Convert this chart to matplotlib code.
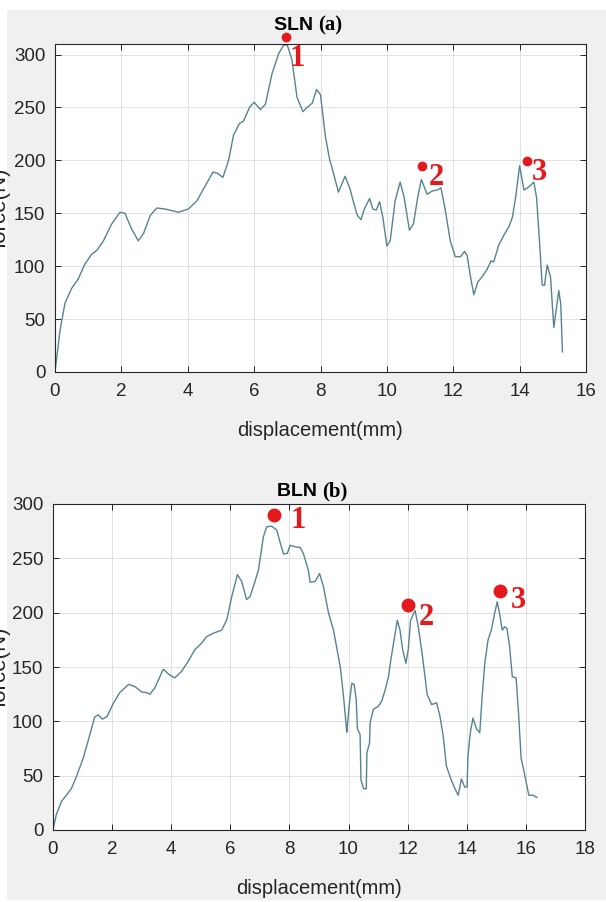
import matplotlib
matplotlib.use("Agg")
import matplotlib.pyplot as plt
from matplotlib import font_manager
from matplotlib.patches import Rectangle

def has_font(name):
    try:
        font_manager.findfont(name, fallback_to_default=False)
        return True
    except Exception:
        return False

SANS = "Liberation Sans Narrow" if has_font("Liberation Sans Narrow") else "Liberation Sans"
SERIF = "Liberation Serif"

# ---------------- data ----------------
sln_x = [0, 0.15, 0.3, 0.5, 0.7, 0.9, 1.1, 1.26, 1.46, 1.71, 1.96, 2.11, 2.31, 2.51, 2.67, 2.87,
         3.07, 3.32, 3.72, 4.02, 4.28, 4.53, 4.76, 4.88, 5.06, 5.23, 5.38, 5.56, 5.68, 5.86, 6.0,
         6.19, 6.34, 6.54, 6.74, 6.89, 7.0, 7.14, 7.29, 7.47, 7.59, 7.75, 7.88, 8.0, 8.15, 8.28,
         8.34, 8.54, 8.74, 8.89, 8.99, 9.11, 9.22, 9.32, 9.48, 9.58, 9.68, 9.78, 9.88, 10.0, 10.1,
         10.25, 10.4, 10.52, 10.68, 10.8, 10.93, 11.04, 11.21, 11.36, 11.51, 11.63, 11.76, 11.91,
         12.06, 12.22, 12.34, 12.42, 12.52, 12.62, 12.74, 12.87, 13.02, 13.14, 13.22, 13.37, 13.52,
         13.68, 13.78, 13.88, 14.0, 14.13, 14.28, 14.43, 14.51, 14.61, 14.68, 14.75, 14.83, 14.93,
         15.03, 15.18, 15.24, 15.29]
sln_y = [0, 39, 65, 79, 88, 102, 111, 115, 124, 140, 151, 150, 135, 124, 131, 148,
         155, 154, 151, 154, 162, 176, 189, 188, 184, 200, 224, 235, 237, 250, 255,
         248, 253, 282, 301, 309, 309, 295, 260, 246, 250, 254, 267, 262, 222, 200,
         194, 170, 185, 173, 161, 148, 144, 154, 164, 154, 153, 161, 146, 119, 124,
         162, 179.5, 165, 134, 140, 165, 182, 168, 171, 172, 174, 153, 124,
         109, 109, 114, 110, 90, 73, 85, 90, 97, 105, 104, 120, 129,
         137.5, 146, 165, 195, 172, 175, 179.5, 165, 118, 82, 82, 101, 90,
         42, 77, 64, 19]

bln_x = [0, 0.11, 0.28, 0.45, 0.62, 0.79, 1.02, 1.24, 1.41, 1.53, 1.67, 1.83, 2.03, 2.26, 2.56,
         2.77, 3.0, 3.16, 3.28, 3.45, 3.73, 3.93, 4.12, 4.35, 4.58, 4.8, 5.03, 5.2, 5.42, 5.71,
         5.88, 6.05, 6.24, 6.38, 6.55, 6.67, 6.78, 6.95, 7.12, 7.23, 7.4, 7.57, 7.68, 7.8, 7.93,
         8.02, 8.19, 8.36, 8.47, 8.64, 8.7, 8.87, 9.02, 9.15, 9.32, 9.49, 9.72, 9.83, 9.92, 9.94,
         10.03, 10.11, 10.19, 10.26, 10.3, 10.39, 10.42, 10.51, 10.6, 10.62, 10.71, 10.73, 10.84,
         11.01, 11.12, 11.24, 11.35, 11.43, 11.54, 11.65, 11.74, 11.83, 11.94, 12.02, 12.1, 12.25,
         12.36, 12.47, 12.53, 12.66, 12.81, 12.98, 13.09, 13.2, 13.31, 13.46, 13.6, 13.71, 13.82,
         13.93, 14.01, 14.04, 14.12, 14.21, 14.33, 14.44, 14.52, 14.61, 14.72, 14.83, 14.94, 15.03,
         15.11, 15.2, 15.28, 15.36, 15.45, 15.54, 15.67, 15.75, 15.84, 15.92, 16.01, 16.1, 16.24,
         16.37]
bln_y = [0, 14, 26, 32, 38, 49, 66, 87, 104, 106, 102, 104.5, 116, 126.5, 134,
         132, 127, 126.5, 125, 131, 148, 143, 140, 146, 155.5, 166, 172, 178, 181, 184,
         193.6, 215, 235, 229, 212, 215, 224, 239, 270, 279, 279.6, 276, 265, 254, 254.6,
         262, 260.7, 260, 254.6, 239, 228, 228.7, 236, 224, 200, 184, 150, 123, 96, 90,
         117, 135, 134, 120, 93, 88, 46, 38, 38, 71, 80, 99, 111,
         114, 118.5, 129, 141, 156.5, 175, 193, 184, 166, 153.5, 166, 193, 202,
         187, 166, 153.5, 124.6, 115.5, 117, 105, 87, 59, 47, 38, 32, 47,
         39.5, 39.5, 68, 89.6, 103, 93, 89.6, 123, 153.5, 175, 184, 199, 210,
         199, 184, 187, 185.4, 168.7, 141, 140, 108, 65.7, 56.2, 44, 32, 32,
         30]

sln_dot_x = [6.96, 11.06, 14.23]
sln_dot_y = [317, 195, 199]
sln_lab_x = [7.29, 11.48, 14.61]
sln_lab_y = [296, 184, 189]

bln_dot_x = [7.48, 12.02, 15.11]
bln_dot_y = [289.6, 206.7, 219.8]
bln_lab_x = [8.3, 12.62, 15.73]
bln_lab_y = [285, 196, 211]

point_labels = ["1", "2", "3"]

sln_xticks = [0, 2, 4, 6, 8, 10, 12, 14, 16]
bln_xticks = [0, 2, 4, 6, 8, 10, 12, 14, 16, 18]
yticks = [0, 50, 100, 150, 200, 250, 300]

# ---------------- style ----------------
W, H = 606, 902
fig = plt.figure(figsize=(W / 100, H / 100), dpi=100, facecolor="white")
fig.patches.append(Rectangle((7 / W, 1 - 900 / H), 1 - 7 / W, 890 / H,
                             transform=fig.transFigure, facecolor="#f0f0f0",
                             edgecolor="none", zorder=-10))

LINE = "#55848f"
RED = "#e3191c"
DARK = "#262626"

def px_axes(l, r, top, bottom):
    return [l / W, 1 - bottom / H, (r - l) / W, (bottom - top) / H]

def style(ax, xmax, ymax, xt):
    ax.set_xlim(0, xmax)
    ax.set_ylim(0, ymax)
    ax.set_xticks(xt)
    ax.set_yticks(yticks)
    ax.grid(True, color="#dcdcdc", linewidth=0.6)
    ax.set_axisbelow(True)
    ax.tick_params(direction="in", top=True, right=True, length=4, width=0.7,
                   colors=DARK, labelsize=13.5)
    ax.tick_params(axis="x", pad=8)
    ax.tick_params(axis="y", pad=7)
    for lab in ax.get_xticklabels() + ax.get_yticklabels():
        lab.set_fontfamily(SANS)
        lab.set_color(DARK)
    for s in ax.spines.values():
        s.set_color(DARK)
        s.set_linewidth(0.8)
    ax.set_xlabel("displacement(mm)", fontsize=14.5, family=SANS, color=DARK, labelpad=15)

def mark(ax, dx, dy, lx, ly, ms):
    for i in range(len(dx)):
        ax.plot([dx[i]], [dy[i]], "o", color=RED, markersize=ms, clip_on=False, zorder=5)
        ax.text(lx[i], ly[i], point_labels[i], color=RED, fontsize=22, fontweight="bold",
                family=SERIF, ha="center", va="center", clip_on=False, zorder=5)

# top panel
ax1 = fig.add_axes(px_axes(55, 586, 44, 372), zorder=1)
ax1.set_facecolor("white")
ax1.plot(sln_x, sln_y, color=LINE, linewidth=1.0)
style(ax1, 16, 310, sln_xticks)
mark(ax1, sln_dot_x, sln_dot_y, sln_lab_x, sln_lab_y, 6)

# bottom panel
ax2 = fig.add_axes(px_axes(53, 585, 504, 830), zorder=1)
ax2.set_facecolor("white")
ax2.plot(bln_x, bln_y, color=LINE, linewidth=1.0)
style(ax2, 18, 300, bln_xticks)
mark(ax2, bln_dot_x, bln_dot_y, bln_lab_x, bln_lab_y, 9)

# titles (sans "SLN" + serif "(a)")
for (xc, yb, name, tag) in [(318, 30, "SLN", "(a)"), (322, 496, "BLN", "(b)")]:
    fig.text(xc / W, 1 - yb / H, name + " ", fontsize=14, fontweight="bold", family=SANS,
             ha="right", va="baseline", color="black")
    fig.text(xc / W, 1 - yb / H, tag, fontsize=15, fontweight="bold", family=SERIF,
             ha="left", va="baseline", color="black")

# y labels (cut off at left edge, as in the reference)
for yc in [208, 667]:
    fig.text(11 / W, 1 - yc / H, "force(N)", rotation=90, fontsize=16, family=SANS,
             ha="right", va="center", color=DARK)

fig.savefig("out.png", dpi=100, facecolor="white")
